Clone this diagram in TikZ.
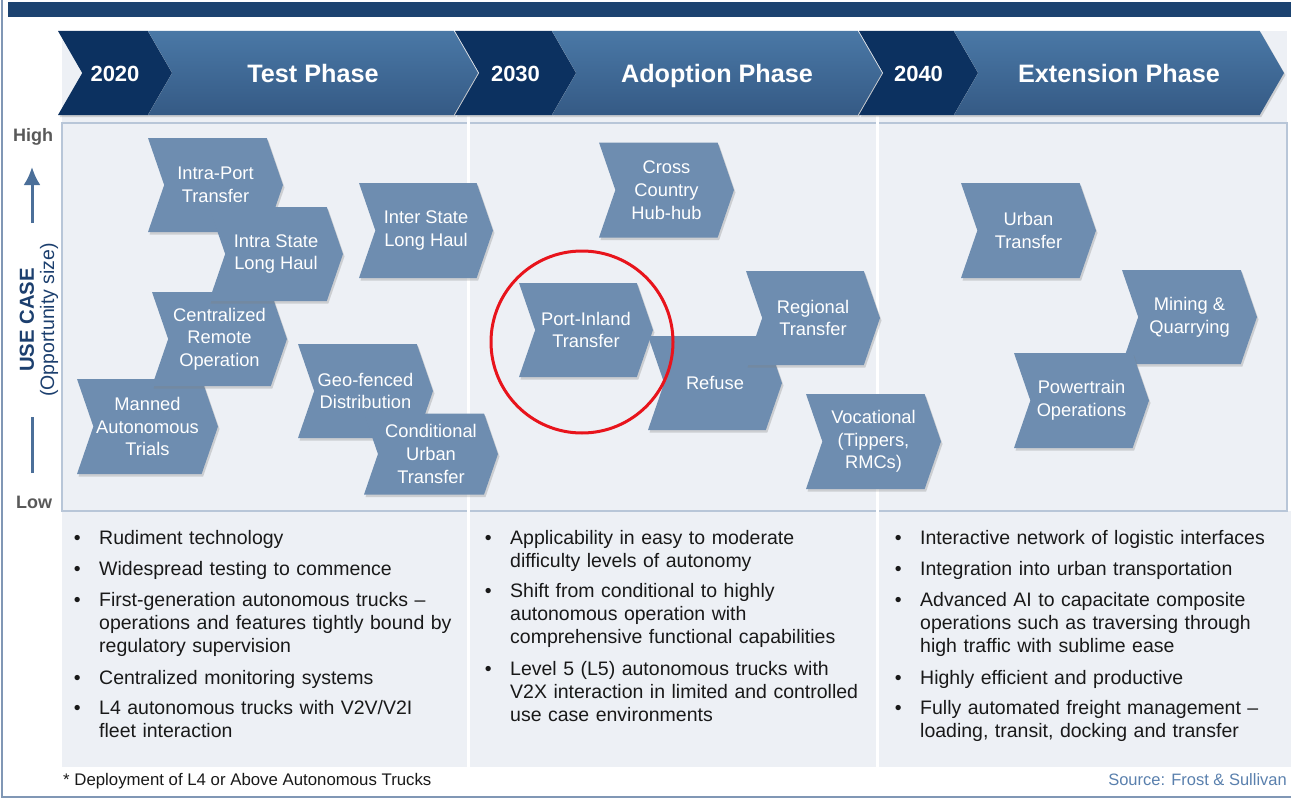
\documentclass[tikz,border=0pt]{standalone}
\usepackage{fontspec}
\setmainfont{Liberation Sans}
\usetikzlibrary{shapes.symbols,shadows,arrows.meta}

\definecolor{navy}{HTML}{0C3160}
\definecolor{barblue}{HTML}{1C4370}
\definecolor{phasetop}{HTML}{4A78A6}
\definecolor{phasebot}{HTML}{355A85}
\definecolor{casefill}{HTML}{6E8DB0}
\definecolor{panel}{HTML}{EDF0F5}
\definecolor{rulegray}{HTML}{B8C6D8}
\definecolor{axisblue}{HTML}{4B6F99}
\definecolor{labelnavy}{HTML}{1C3F6E}
\definecolor{sourceblue}{HTML}{5A80AD}
\definecolor{framegray}{HTML}{8097B5}
\definecolor{markred}{HTML}{E8141C}

\tikzset{
  usecase/.style={signal,signal from=west,signal to=east,signal pointer angle=142,
    fill=casefill,text=white,align=center,inner sep=1pt,
    font=\fontsize{18.3}{22.7}\selectfont,
    drop shadow={shadow xshift=1.5pt,shadow yshift=-2.5pt,opacity=.3}},
  yearbox/.style={signal,signal from=west,signal to=east,signal pointer angle=120,
    fill=navy,text=white,minimum height=84,inner sep=0pt,text height=17.5,text depth=0,
    font=\bfseries\fontsize{22}{26}\selectfont,
    drop shadow={shadow xshift=1.5pt,shadow yshift=-2pt,opacity=.3}},
  phasebox/.style={signal,signal from=west,signal to=east,signal pointer angle=120,
    top color=phasetop,bottom color=phasebot,text=white,minimum height=84,inner sep=0pt,
    text height=20,text depth=0,
    font=\bfseries\fontsize{25.2}{30}\selectfont,
    drop shadow={shadow xshift=1.5pt,shadow yshift=-2pt,opacity=.3}},
  point/.style={anchor=base west,inner sep=0pt,align=left,text=black!90,
    font=\fontsize{19.5}{23.4}\selectfont},
  axislabel/.style={text=black!65,font=\bfseries\fontsize{18}{20}\selectfont},
}
\newcommand{\bul}{\llap{\textbullet\hspace{18.6pt}}}

\begin{document}
\begin{tikzpicture}[x=1pt,y=-1pt]
\useasboundingbox (0,0) rectangle (1291,800);
\clip (0,0) rectangle (1291,800);

%-----------------------------------------------------
\fill [panel] (62,31) rectangle (1287,511);
\fill [panel] (62,511) rectangle (1291,767);
\draw [rulegray,line width=1.5] (62,123) rectangle (1287,511);
\draw [white,line width=3] (468,116) -- (468,767);
\draw [white,line width=3] (877,116) -- (877,767);

\fill [barblue] (8,2) rectangle (1291,17);
\draw [framegray,line width=2] (2,0) -- (2,797) -- (1291,797);

%-----------------------------------------------------
\node at(115,73) [yearbox,minimum width=114] (y2020) {2020};
\node at(313,73) [phasebox,minimum width=330] (test) {Test Phase};
\node at(515.5,73) [yearbox,minimum width=121] (y2030) {2030};
\node at(717,73) [phasebox,minimum width=330] (adoption) {Adoption Phase};
\node at(918.5,73) [yearbox,minimum width=119] (y2040) {2040};
\node at(1119,73) [phasebox,minimum width=330] (extension) {Extension Phase};

%-----------------------------------------------------
\node at(33,137) [axislabel] (high) {High};
\node at(34,502) [axislabel] (low) {Low};
\coordinate (arrowfoot) at (32,223);
\coordinate (arrowtip) at (32,167);
\coordinate (barfoot) at (32,473);
\coordinate (bartop) at (32,417);
\draw [axisblue,line width=3,-{Latex[length=18,width=17]}] (arrowfoot) -- (arrowtip);
\draw [axisblue,line width=3] (barfoot) -- (bartop);
\node at(27,320) [rotate=90,text=labelnavy,font=\bfseries\fontsize{20.3}{24}\selectfont] (usecase) {USE CASE};
\node at(49,320) [rotate=90,text=labelnavy,font=\fontsize{19.5}{24}\selectfont] (oppsize) {(Opportunity size)};

%-----------------------------------------------------
\node at(215.5,185) [usecase,minimum width=135,minimum height=94] (intraport) {Intra-Port\\Transfer};
\node at(147.5,426.5) [usecase,minimum width=141,minimum height=95] (manned) {Manned\\Autonomous\\Trials};
\node at(219.5,339) [usecase,minimum width=135,minimum height=94] (remote) {Centralized\\Remote\\Operation};
\node at(276,254) [usecase,minimum width=134,minimum height=94] (intrastate) {Intra State\\Long Haul};
\node at(426,230.5) [usecase,minimum width=134,minimum height=95] (interstate) {Inter State\\Long Haul};
\node at(365.5,391) [usecase,minimum width=135,minimum height=94] (geofenced) {Geo-fenced\\Distribution};
\node at(431,454) [usecase,minimum width=134,minimum height=81] (conditional) {Conditional\\Urban\\Transfer};

\node at(666.5,190) [usecase,minimum width=135,minimum height=95] (crosscountry) {Cross\\Country\\Hub-hub};
\node at(586,330) [usecase,minimum width=134,minimum height=94] (portinland) {Port-Inland\\Transfer};
\node at(715,383) [usecase,minimum width=134,minimum height=94] (refuse) {Refuse};
\node at(813,318) [usecase,minimum width=134,minimum height=94] (regional) {Regional\\Transfer};
\node at(873.5,441.5) [usecase,minimum width=135,minimum height=95] (vocational) {Vocational\\(Tippers,\\RMCs)};

\node at(1028.5,230.5) [usecase,minimum width=135,minimum height=95] (urban) {Urban\\Transfer};
\node at(1189.5,317) [usecase,minimum width=135,minimum height=94] (mining) {Mining \&\\Quarrying};
\node at(1081.5,400.5) [usecase,minimum width=135,minimum height=95] (powertrain) {Powertrain\\Operations};

\node at(582,342) [circle,draw=markred,line width=3,minimum size=182] (focus) {};

%-----------------------------------------------------
\node at(99,544) [point,text width=365] (t1) {\bul Rudiment technology};
\node at(99,575) [point,text width=365] (t2) {\bul Widespread testing to commence};
\node at(99,606) [point,text width=365] (t3) {\bul First-generation autonomous trucks --\\operations and features tightly bound by\\regulatory supervision};
\node at(99,684) [point,text width=365] (t4) {\bul Centralized monitoring systems};
\node at(99,714) [point,text width=365] (t5) {\bul L4 autonomous trucks with V2V/V2I\\fleet interaction};

\node at(510,544) [point,text width=362] (a1) {\bul Applicability in easy to moderate\\difficulty levels of autonomy};
\node at(510,597) [point,text width=362] (a2) {\bul Shift from conditional to highly\\autonomous operation with\\comprehensive functional capabilities};
\node at(510,675) [point,text width=362] (a3) {\bul Level 5 (L5) autonomous trucks with\\V2X interaction in limited and controlled\\use case environments};

\node at(920,544) [point,text width=368] (e1) {\bul Interactive network of logistic interfaces};
\node at(920,575) [point,text width=368] (e2) {\bul Integration into urban transportation};
\node at(920,606) [point,text width=368] (e3) {\bul Advanced AI to capacitate composite\\operations such as traversing through\\high traffic with sublime ease};
\node at(920,684) [point,text width=368] (e4) {\bul Highly efficient and productive};
\node at(920,714) [point,text width=368] (e5) {\bul Fully automated freight management --\\loading, transit, docking and transfer};

%-----------------------------------------------------
\node at(63,785) [anchor=base west,inner sep=0pt,text=black!90,font=\fontsize{16.8}{20}\selectfont] (footnote) {* Deployment of L4 or Above Autonomous Trucks};
\node at(1287,785) [anchor=base east,inner sep=0pt,text=sourceblue,font=\fontsize{16.5}{20}\selectfont] (source) {Source: Frost \& Sullivan};

\end{tikzpicture}
\end{document}
